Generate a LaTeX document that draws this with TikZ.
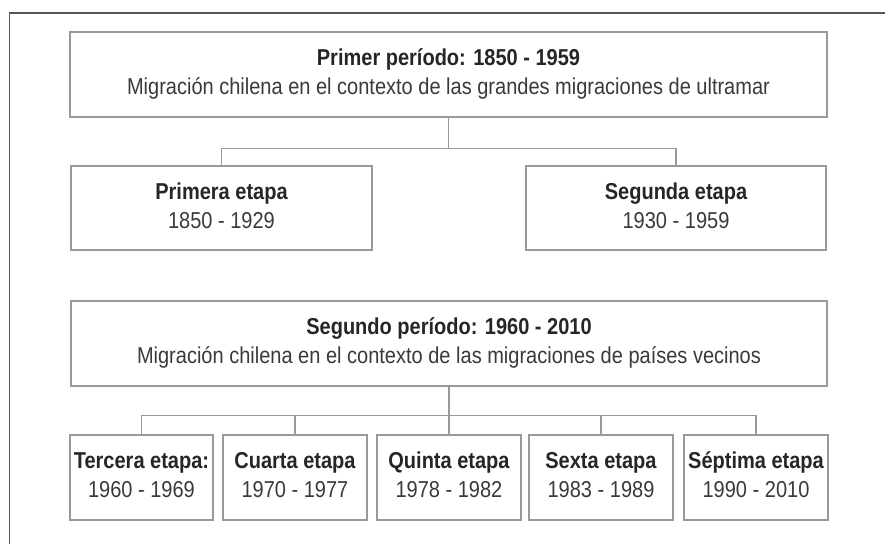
\documentclass[tikz,border=0pt]{standalone}
\usepackage{fontspec}
\setmainfont{Liberation Sans}[FakeStretch=0.87]
\usetikzlibrary{calc}
\pgfdeclarelayer{bg}
\pgfsetlayers{bg,main}
\definecolor{txt}{HTML}{3A3A3A}
\definecolor{boldtxt}{HTML}{262626}
\definecolor{boxline}{HTML}{999999}
\definecolor{conn}{HTML}{999999}
\definecolor{framec}{HTML}{555555}
\tikzset{
  card/.style={draw=boxline, line width=1.1pt, fill=white, align=center,
    inner sep=0pt, text=txt, font=\fontsize{23}{29}\selectfont},
  conline/.style={draw=conn, line width=1.1pt},
  frameline/.style={draw=framec, line width=1.4pt},
}
\newcommand\hd[1]{{\color{boldtxt}\bfseries\strut #1}}
\newcommand\sub[1]{\strut #1}
\newcommand\softshadow[1]{%
  \begin{pgfonlayer}{bg}
  \foreach \e in {0,1,...,6}{%
    \fill[black, opacity=0.07]
      ($(#1.north west)+(4-\e,6-\e)$) rectangle ($(#1.south east)+(4+\e,6+\e)$);
  }
  \end{pgfonlayer}}
\begin{document}
\begin{tikzpicture}[x=1pt,y=-1pt]
\useasboundingbox (0,0) rectangle (885,544);
\fill[white] (0,0) rectangle (885,544);
% outer frame
\coordinate (fa) at (885,13);
\coordinate (fb) at (9.5,13);
\coordinate (fc) at (9.5,544);
\draw[frameline] (fa) -- (fb) -- (fc);

% first period
\node[card, minimum width=757pt, minimum height=85pt] (p1) at (448.5,74.5)
  {\hd{Primer período: 1850 - 1959}\\\sub{Migración chilena en el contexto de las grandes migraciones de ultramar}};
\node[card, minimum width=301pt, minimum height=84pt] (e1) at (221.5,208)
  {\hd{Primera etapa}\\\sub{1850 - 1929}};
\node[card, minimum width=300pt, minimum height=84pt] (e2) at (676,208)
  {\hd{Segunda etapa}\\\sub{1930 - 1959}};

% second period
\node[card, minimum width=756pt, minimum height=85pt] (p2) at (449,343.5)
  {\hd{Segundo período: 1960 - 2010}\\\sub{Migración chilena en el contexto de las migraciones de países vecinos}};
\node[card, minimum width=143pt, minimum height=85pt] (e3) at (141.5,477.5)
  {\hd{Tercera etapa:}\\\sub{1960 - 1969}};
\node[card, minimum width=144pt, minimum height=85pt] (e4) at (295,477.5)
  {\hd{Cuarta etapa}\\\sub{1970 - 1977}};
\node[card, minimum width=144pt, minimum height=85pt] (e5) at (449,477.5)
  {\hd{Quinta etapa}\\\sub{1978 - 1982}};
\node[card, minimum width=144pt, minimum height=85pt] (e6) at (601,477.5)
  {\hd{Sexta etapa}\\\sub{1983 - 1989}};
\node[card, minimum width=144pt, minimum height=85pt] (e7) at (756,477.5)
  {\hd{Séptima etapa}\\\sub{1990 - 2010}};

\foreach \n in {p1,e1,e2,p2,e3,e4,e5,e6,e7}{\softshadow{\n}}

% connectors
\draw[conline] (p1.south) -- ++(0,31) coordinate (b1);
\draw[conline] (e1.north) |- (b1) -| (e2.north);
\draw[conline] (p2.south) -- (e5.north);
\draw[conline] (p2.south) ++(0,29) coordinate (b2);
\draw[conline] (e3.north) |- (b2) -| (e7.north);
\draw[conline] (e4.north) -- (e4.north |- b2);
\draw[conline] (e6.north) -- (e6.north |- b2);
\end{tikzpicture}
\end{document}
